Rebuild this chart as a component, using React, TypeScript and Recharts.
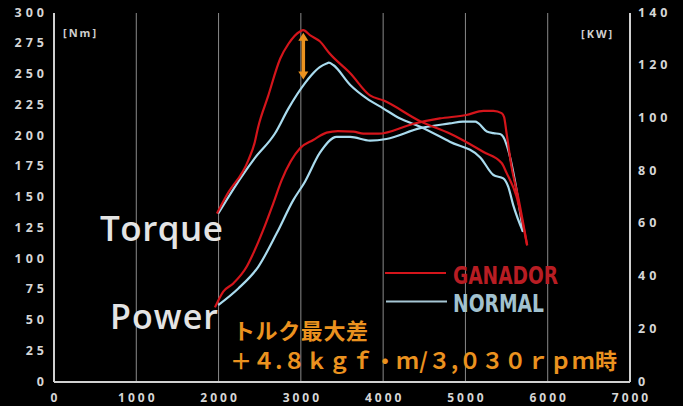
import React from "react";
import { LineChart, Line, XAxis, YAxis, CartesianGrid, ReferenceLine } from "recharts";

const rpmTicks = [0, 1000, 2000, 3000, 4000, 5000, 6000, 7000];
const nmTicks = [0, 25, 50, 75, 100, 125, 150, 175, 200, 225, 250, 275, 300];
const kwTicks = [0, 20, 40, 60, 80, 100, 120, 140];

// GANADOR torque [Nm]
const ganadorTorqueRpm = [1980, 2100, 2360, 2440, 2480, 2600, 2750, 2850, 2990, 3030, 3110, 3230, 3350, 3600, 3840, 4000, 4450, 4810, 4930, 5220, 5440, 5500, 5620, 5750];
const ganadorTorqueNm = [137, 152, 180, 195, 207, 232, 263, 275, 285, 286, 282, 277, 267, 251, 233, 229, 212, 202, 198, 187, 178, 170, 151, 111];

// GANADOR power [kW]
const ganadorPowerRpm = [1956, 2057, 2179, 2341, 2422, 2543, 2665, 2767, 2990, 3150, 3313, 3450, 3640, 3760, 3940, 4370, 4690, 5010, 5220, 5340, 5440, 5470, 5500, 5560, 5640, 5750];
const ganadorPowerKw = [28.3, 34.3, 37.4, 43.7, 48.8, 57.7, 67.8, 76.6, 88.7, 91.8, 94.6, 95.2, 95, 94.2, 94.2, 98, 100, 101.3, 102.9, 102.9, 102, 100.5, 94.4, 81.7, 70.3, 52];

// NORMAL torque [Nm]
const normalTorqueRpm = [1996, 2280, 2440, 2685, 2850, 3050, 3130, 3230, 3313, 3340, 3394, 3600, 3800, 4000, 4200, 4450, 4810, 5180, 5340, 5460, 5520, 5580, 5700];
const normalTorqueNm = [137, 167, 182, 202, 222.5, 243, 249.6, 256, 259, 259.6, 257.7, 241.5, 230.6, 222.5, 214.4, 207.6, 195.4, 182.6, 168.3, 165.5, 158.8, 144, 122];

// NORMAL power [kW]
const normalPowerRpm = [1996, 2240, 2482, 2706, 2908, 3050, 3232, 3435, 3600, 3840, 4040, 4450, 4810, 4970, 5120, 5160, 5260, 5340, 5420, 5460, 5520, 5600, 5700];
const normalPowerKw = [29.2, 35.5, 43.7, 56.4, 69, 76, 87, 93, 93, 91.6, 92.2, 96.3, 98.1, 98.8, 98.8, 98.1, 95, 94.4, 94.1, 93, 88, 76.6, 57];

// torque gap annotation (3,030 rpm)
const gapRpm = 3030;
const gapTopNm = 284;
const gapBottomNm = 246;

const RED = "#d4151b";
const BLUE = "#a9dbee";
const ORANGE = "#eb921f";
const TICK = "#d6d6d6";

const toPoints = (rpm: number[], v: number[]) => rpm.map((r, i) => ({ rpm: r, v: v[i] }));

const YTick = (props: any) => {
  const { x, y, payload, textAnchor } = props;
  return (
    <text x={x} y={y} dy={3.5} textAnchor={textAnchor} fill={TICK} fontSize={12.5} fontWeight={700}
      letterSpacing={4} fontFamily="'Open Sans', sans-serif">{payload.value}</text>
  );
};

const XTick = (props: any) => {
  const { x, y, payload } = props;
  return (
    <text x={x + 1.5} y={y} dy={12} textAnchor="middle" fill={TICK} fontSize={12} fontWeight={700}
      letterSpacing={3} fontFamily="'Open Sans', sans-serif">{payload.value}</text>
  );
};

const ArrowShape = (p: any) => {
  const { x1, y1, y2 } = p;
  const top = Math.min(y1, y2);
  const bot = Math.max(y1, y2);
  return (
    <g>
      <line x1={x1} y1={top + 6} x2={x1} y2={bot - 6} stroke={ORANGE} strokeWidth={3.5} />
      <path d={`M${x1},${top} L${x1 - 5},${top + 8} L${x1 + 5},${top + 8} Z`} fill={ORANGE} />
      <path d={`M${x1},${bot} L${x1 - 5},${bot - 8} L${x1 + 5},${bot - 8} Z`} fill={ORANGE} />
    </g>
  );
};

export default function App() {
  return (
    <div style={{ position: "absolute", left: 0, top: 0, width: 683, height: 406, background: "#000" }}>
      <LineChart width={683} height={406} margin={{ top: 13, right: 0, bottom: 0, left: 0 }}>
        <CartesianGrid horizontal={false} stroke="#8a8a8a" strokeWidth={1} />
        <XAxis dataKey="rpm" type="number" domain={[0, 7000]} ticks={rpmTicks} interval={0}
          height={24} tickSize={0} tickMargin={8} tickLine={false} tick={<XTick />}
          axisLine={{ stroke: "#d0d0d0", strokeWidth: 2 }} allowDataOverflow />
        <YAxis yAxisId="nm" orientation="left" domain={[0, 300]} ticks={nmTicks} interval={0}
          width={54} tickSize={0} tickMargin={6} tickLine={false} tick={<YTick />}
          axisLine={{ stroke: "#d0d0d0", strokeWidth: 2 }} />
        <YAxis yAxisId="kw" orientation="right" domain={[0, 140]} ticks={kwTicks} interval={0}
          width={53} tickSize={0} tickMargin={8} tickLine={false} tick={<YTick />}
          axisLine={{ stroke: "#d0d0d0", strokeWidth: 2 }} />
        <Line yAxisId="nm" data={toPoints(normalTorqueRpm, normalTorqueNm)} dataKey="v" type="monotone"
          stroke={BLUE} strokeWidth={2.2} dot={false} isAnimationActive={false} />
        <Line yAxisId="kw" data={toPoints(normalPowerRpm, normalPowerKw)} dataKey="v" type="monotone"
          stroke={BLUE} strokeWidth={2.2} dot={false} isAnimationActive={false} />
        <Line yAxisId="nm" data={toPoints(ganadorTorqueRpm, ganadorTorqueNm)} dataKey="v" type="monotone"
          stroke={RED} strokeWidth={2.2} dot={false} isAnimationActive={false} />
        <Line yAxisId="kw" data={toPoints(ganadorPowerRpm, ganadorPowerKw)} dataKey="v" type="monotone"
          stroke={RED} strokeWidth={2.2} dot={false} isAnimationActive={false} />
        <ReferenceLine yAxisId="nm" segment={[{ x: gapRpm, y: gapTopNm }, { x: gapRpm, y: gapBottomNm }]}
          shape={ArrowShape} />
      </LineChart>

      <svg width={683} height={406} style={{ position: "absolute", left: 0, top: 0, pointerEvents: "none" }}>
        <text x={63} y={37} fill="#cfcfcf" fontSize={11} fontWeight={700} letterSpacing={2}
          fontFamily="'Open Sans', sans-serif">[Nm]</text>
        <text x={581} y={38} fill="#cfcfcf" fontSize={11} fontWeight={700} letterSpacing={2}
          fontFamily="'Open Sans', sans-serif">[KW]</text>

        <text x={100} y={241} fill="#e4e4e4" fontSize={35} fontWeight={600} fontFamily="'Open Sans', sans-serif"
          textLength={123} lengthAdjust="spacing">Torque</text>
        <text x={110} y={329} fill="#e4e4e4" fontSize={34} fontWeight={600} fontFamily="'Open Sans', sans-serif"
          textLength={108} lengthAdjust="spacing">Power</text>

        <line x1={385} y1={273} x2={446} y2={273} stroke={RED} strokeWidth={2} />
        <text x={453} y={284} fill="#b81d23" fontSize={25} fontWeight={700}
          fontFamily="'Liberation Sans Narrow', 'DejaVu Sans Condensed', sans-serif"
          textLength={105} lengthAdjust="spacingAndGlyphs">GANADOR</text>
        <line x1={386} y1={301.5} x2={447} y2={301.5} stroke="#a6c6d4" strokeWidth={2} />
        <text x={453} y={312} fill="#a2c2cf" fontSize={25} fontWeight={700}
          fontFamily="'Liberation Sans Narrow', 'DejaVu Sans Condensed', sans-serif"
          textLength={91} lengthAdjust="spacingAndGlyphs">NORMAL</text>

        <text x={233} y={339} fill={ORANGE} fontSize={22} fontWeight={700}
          fontFamily="'Noto Sans CJK JP', sans-serif" textLength={135} lengthAdjust="spacing">トルク最大差</text>
        <text x={230} y={369} fill={ORANGE} fontSize={22} fontWeight={700}
          fontFamily="'Noto Sans CJK JP', sans-serif" textLength={387} lengthAdjust="spacing">＋４.８ｋｇｆ・ｍ/３,０３０ｒｐｍ時</text>
      </svg>
    </div>
  );
}
